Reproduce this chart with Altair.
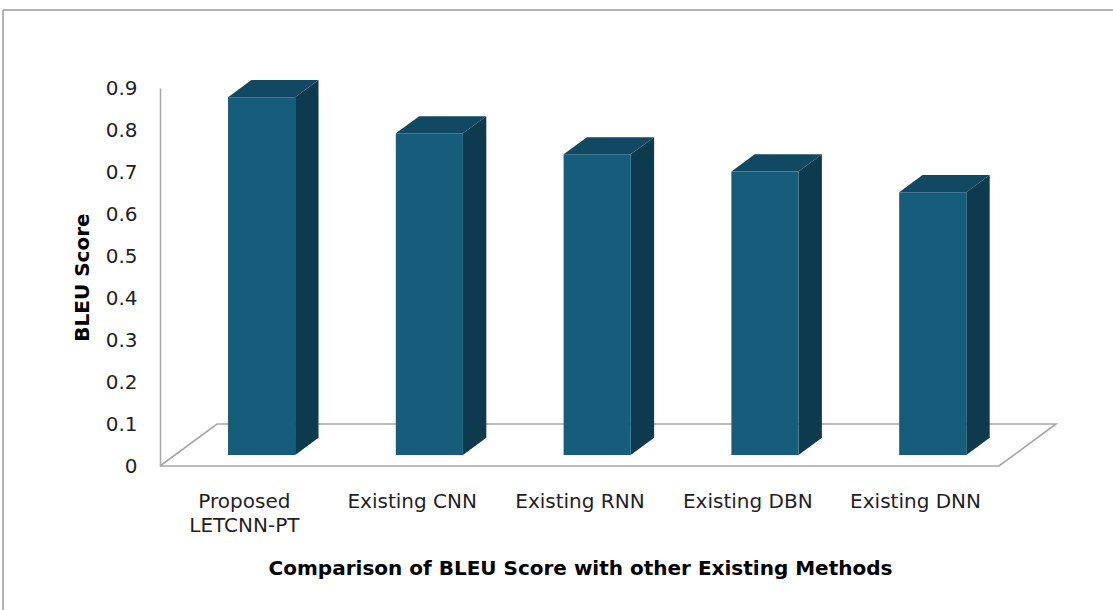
import json
import altair as alt
import pandas as pd

# ---- data ----
categories = ["Proposed LETCNN-PT", "Existing CNN", "Existing RNN", "Existing DBN", "Existing DNN"]
label_lines = [["Proposed", "LETCNN-PT"], ["Existing CNN"], ["Existing RNN"], ["Existing DBN"], ["Existing DNN"]]
values = [0.852, 0.766, 0.716, 0.675, 0.626]
y_ticks = [0, 0.1, 0.2, 0.3, 0.4, 0.5, 0.6, 0.7, 0.8, 0.9]
y_title = "BLEU Score"
x_title = "Comparison of BLEU Score with other Existing Methods"

# ---- 3D projection style constants ----
FX, FY = 0.34, 0.1      # floor depth offset (x units, value units)
D0, D1 = 0.26, 0.67     # bar depth span as fraction of floor depth
M, W = 0.317, 0.40      # bar margin and width inside a category band
FRONT, TOP, SIDE = "#165d7b", "#114862", "#0d3b4d"
GRAY = "#a6a6a6"
FONT = "DejaVu Sans"

n = len(categories)
ddx, ddy = (D1 - D0) * FX, (D1 - D0) * FY

front_rows, side_rows, top_rows = [], [], []
for i, (c, v) in enumerate(zip(categories, values)):
    xl = i + M + D0 * FX
    xr = xl + W
    yb = D0 * FY
    yt = yb + v
    front_rows.append({"cat": c, "xl": xl, "xr": xr, "yb": yb, "yt": yt})
    side_rows.append({"cat": c, "x": xr, "y": yb, "y2": yt})
    side_rows.append({"cat": c, "x": xr + ddx, "y": yb + ddy, "y2": yt + ddy})
    top_rows.append({"cat": c, "y": yt, "x": xl, "x2": xr})
    top_rows.append({"cat": c, "y": yt + ddy, "x": xl + ddx, "x2": xr + ddx})

front_df = pd.DataFrame(front_rows)
side_df = pd.DataFrame(side_rows)
top_df = pd.DataFrame(top_rows)
floor_df = pd.DataFrame({
    "x": [0, n, n + FX, FX, 0],
    "y": [0, 0, FY, FY, 0],
    "o": [0, 1, 2, 3, 4],
})

xscale = alt.Scale(domain=[0, n + FX], nice=False, zero=False)
yscale = alt.Scale(domain=[0, 0.9], nice=False, zero=True)

xaxis = alt.Axis(
    values=[i + 0.5 for i in range(n)],
    labelExpr=f"{json.dumps(label_lines)}[floor(datum.value)]",
    domain=False, ticks=False, grid=False,
    labelFont=FONT, labelFontSize=20, labelColor="#1f1f1f",
    labelPadding=25, labelLineHeight=24, labelBaseline="top",
    labelFlush=False, labelOverlap=False, labelBound=False,
    title=x_title, titleFont=FONT, titleFontSize=20, titleFontWeight="bold",
    titleColor="#000000", titleX=420, titleY=108, titleAlign="center",
    titleBaseline="alphabetic", titleAnchor="middle",
)
yaxis = alt.Axis(
    values=y_ticks,
    labelExpr="datum.value == 0 ? '0' : format(datum.value, '.1f')",
    domain=True, domainColor=GRAY, domainWidth=1.5,
    ticks=False, grid=False,
    labelFont=FONT, labelFontSize=20, labelColor="#1f1f1f", labelPadding=23,
    title=y_title, titleFont=FONT, titleFontSize=20, titleFontWeight="bold",
    titleColor="#000000", titleAngle=270, titleX=-78, titleY=189,
    titleAlign="center", titleBaseline="middle",
)


def X(f):
    return alt.X(f, type="quantitative", scale=xscale, axis=xaxis)


def Y(f):
    return alt.Y(f, type="quantitative", scale=yscale, axis=yaxis)


floor = alt.Chart(floor_df).mark_line(color=GRAY, strokeWidth=1.6).encode(
    x=X("x"), y=Y("y"), order=alt.Order("o:Q")
)
front = alt.Chart(front_df).mark_rect(color=FRONT).encode(
    x=X("xl"), x2="xr", y=Y("yb"), y2="yt"
)
side = alt.Chart(side_df).mark_area(color=SIDE).encode(
    x=X("x"), y=Y("y"), y2="y2", detail="cat:N"
)
top = alt.Chart(top_df).mark_area(color=TOP, orient="horizontal").encode(
    y=Y("y"), x=X("x"), x2="x2", detail="cat:N"
)

dummy = pd.DataFrame({"a": [0]})
frame_top = alt.Chart(dummy).mark_rule(color="#9a9a9a", strokeWidth=1.5).encode(
    x=alt.value(-157), x2=alt.value(960), y=alt.value(-78)
)
frame_left = alt.Chart(dummy).mark_rule(color="#9a9a9a", strokeWidth=1.5).encode(
    x=alt.value(-157), y=alt.value(-78), y2=alt.value(530)
)

chart = alt.layer(floor, side, top, front, frame_top, frame_left).properties(
    width=896, height=378,
    padding={"left": 160, "top": 88, "right": 57, "bottom": 144},
    autosize=alt.AutoSizeParams(type="none"),
    background="white",
).configure_view(stroke=None)

chart.save("out.html", embed_options={"renderer": "svg", "actions": False})
